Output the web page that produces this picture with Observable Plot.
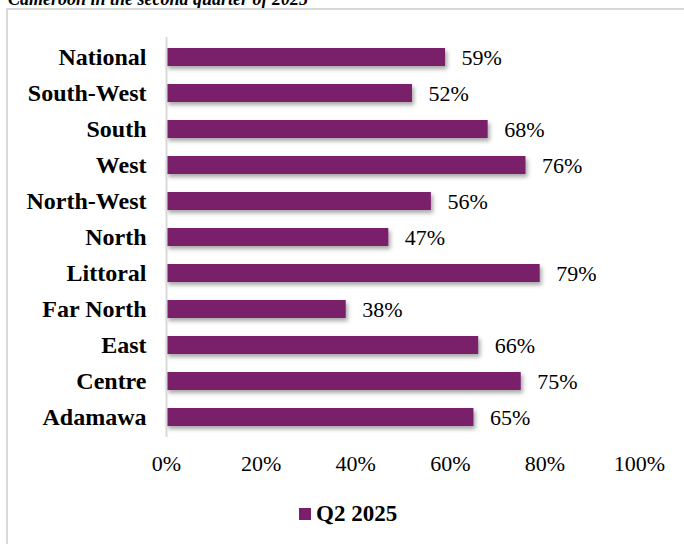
<!DOCTYPE html>
<html>
<head>
<meta charset="utf-8">
<script src="https://cdn.jsdelivr.net/npm/d3@7"></script>
<script src="https://cdn.jsdelivr.net/npm/@observablehq/plot@0.6"></script>
<style>
  html, body { margin: 0; padding: 0; background: #fff; overflow: hidden; }
  #wrap { position: relative; width: 684px; height: 544px; overflow: hidden; font-family: "Liberation Serif", "Times New Roman", serif; }
  #title { position: absolute; left: 8px; top: -11px; font-size: 18px; font-weight: bold; font-style: italic; white-space: nowrap; line-height: 1.15; color: #000; }
  #frame { position: absolute; left: 6px; top: 8px; width: 700px; height: 560px; border: 2px solid #d9d9d9; box-sizing: border-box; }
  #chart { position: absolute; left: 0; top: 0; }
  #legend { position: absolute; left: 299px; top: 501px; display: flex; align-items: center; font-size: 23px; font-weight: bold; white-space: nowrap; }
  #legend .sw { width: 12px; height: 12px; background: #7a1f6a; margin-right: 5px; }
</style>
</head>
<body>
<div id="wrap">
  <div id="title">Cameroon in the second quarter of 2025</div>
  <div id="frame"></div>
  <div id="chart"></div>
  <div id="legend"><span class="sw"></span><span>Q2 2025</span></div>
</div>
<script>
const regions = ["National", "South-West", "South", "West", "North-West", "North", "Littoral", "Far North", "East", "Centre", "Adamawa"];
const values = [0.59, 0.52, 0.68, 0.76, 0.56, 0.47, 0.79, 0.38, 0.66, 0.75, 0.65];
const xTicks = [0, 0.2, 0.4, 0.6, 0.8, 1.0];
const seriesName = "Q2 2025";
const barColor = "#7a1f6a";

const data = regions.map((r, i) => ({region: r, value: values[i]}));
const pct = d3.format(".0%");

const chart = Plot.plot({
  width: 684,
  height: 544,
  marginLeft: 166,
  marginRight: 45,
  marginTop: 37,
  marginBottom: 107,
  style: {background: "transparent", fontFamily: "'Liberation Serif', 'Times New Roman', serif", color: "#000"},
  x: {domain: [0, 1], axis: null, label: null},
  y: {domain: regions, paddingInner: 0.505, paddingOuter: 0.25, axis: null, label: null},
  marks: [
    Plot.barX(data, {x: "value", y: "region", fill: barColor}),
    Plot.ruleX([0], {stroke: "#d9d9d9", strokeWidth: 2}),
    Plot.axisY({tickSize: 0, tickPadding: 20, fontSize: 24, fontWeight: "bold", fill: "#000", label: null}),
    Plot.axisX({ticks: xTicks, tickFormat: pct, tickSize: 0, tickPadding: 18, fontSize: 22, fill: "#000", label: null}),
    Plot.text(data, {x: "value", y: "region", text: d => pct(d.value), dx: 16, textAnchor: "start", fontSize: 22, fill: "#000"})
  ]
});
document.getElementById("chart").appendChild(chart);
// drop shadow on bars, like the original
const barGroup = chart.querySelector('g[aria-label="bar"]');
if (barGroup) barGroup.style.filter = "drop-shadow(2px 3px 2px rgba(0,0,0,0.35))";
document.getElementById("legend").lastElementChild.textContent = seriesName;
</script>
</body>
</html>
